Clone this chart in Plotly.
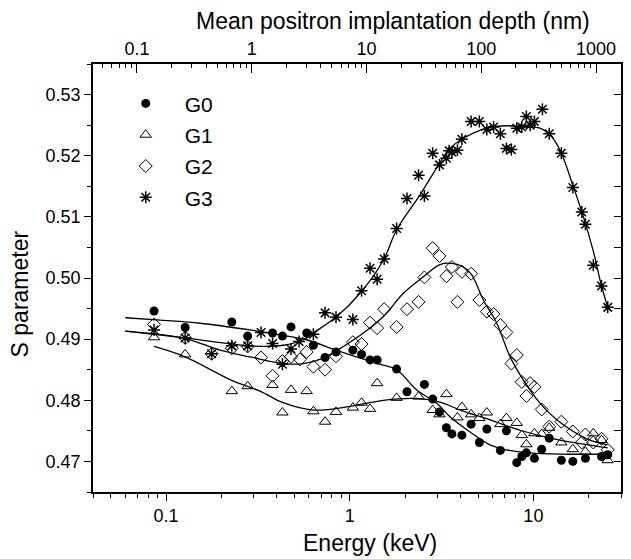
import numpy as np
import plotly.graph_objects as go

# ---------------- data ----------------
g0_e = [0.086, 0.127, 0.228, 0.278, 0.38, 0.43, 0.479, 0.583, 0.634, 0.734, 0.842, 1.04, 1.16, 1.29, 1.41,
        1.8, 2.05, 2.55, 2.83, 3.08, 3.36, 3.6, 4.08, 4.58, 5.08, 5.58, 6.61, 7.13, 8.12, 8.65, 9.16,
        10.13, 11.1, 12.2, 14.2, 16.4, 19.2, 23.5, 25.4]
g0_s = [0.4946, 0.4919, 0.4928, 0.4905, 0.4910, 0.4905, 0.4920, 0.4910, 0.4890, 0.4870, 0.4879, 0.4882,
        0.4875, 0.4866, 0.4866, 0.4851, 0.4814, 0.4826, 0.4802, 0.4781, 0.4755, 0.4745, 0.4743, 0.4761,
        0.4731, 0.4753, 0.4718, 0.4750, 0.4698, 0.4708, 0.4714, 0.4705, 0.4720, 0.4738, 0.4702, 0.4700,
        0.4705, 0.4708, 0.4711]

g1_e = [0.086, 0.127, 0.228, 0.278, 0.38, 0.43, 0.479, 0.583, 0.634, 0.734, 0.842, 1.04, 1.16, 1.29, 1.41,
        1.8, 2.37, 2.83, 3.08, 3.36, 3.86, 4.08, 4.58, 5.08, 5.58, 6.61, 7.13, 8.12, 8.65, 9.16, 10.13,
        11.1, 12.2, 14.2, 16.4, 19.2, 21.2, 23.5, 25.4]
g1_s = [0.4903, 0.4875, 0.4815, 0.4823, 0.4825, 0.4780, 0.4817, 0.4815, 0.4782, 0.4765, 0.4781, 0.4788,
        0.4796, 0.4786, 0.4828, 0.4804, 0.4806, 0.4784, 0.4777, 0.4810, 0.4772, 0.4789, 0.4777, 0.4771,
        0.4780, 0.4761, 0.4771, 0.4763, 0.4743, 0.4728, 0.4746, 0.4745, 0.4755, 0.4731, 0.4720, 0.4716,
        0.4746, 0.4735, 0.4702]

g2_e = [0.086, 0.127, 0.177, 0.228, 0.278, 0.329, 0.38, 0.43, 0.479, 0.536, 0.583, 0.634, 0.734, 0.842,
        1.04, 1.16, 1.29, 1.41, 1.54, 1.8, 2.05, 2.37, 2.55, 2.83, 3.08, 3.36, 3.6, 3.86, 4.08, 4.58,
        5.08, 5.58, 6.07, 6.61, 7.13, 7.59, 8.12, 8.65, 9.16, 9.6, 10.13, 11.1, 12.2, 14.2, 16.4, 18.35,
        19.2, 21.2, 23.5, 25.4]
g2_s = [0.4924, 0.4902, 0.4876, 0.4885, 0.4888, 0.4870, 0.4840, 0.4864, 0.4871, 0.4867, 0.4879, 0.4855,
        0.4850, 0.4872, 0.4895, 0.4892, 0.4927, 0.4918, 0.4949, 0.4920, 0.4949, 0.4961, 0.5001, 0.5049,
        0.5036, 0.5003, 0.5018, 0.4961, 0.5010, 0.5007, 0.4964, 0.4945, 0.4941, 0.4923, 0.4911, 0.4860,
        0.4874, 0.4830, 0.4807, 0.4828, 0.4822, 0.4785, 0.4757, 0.4765, 0.4749, 0.4731, 0.4744, 0.4731,
        0.4737, 0.4719]

g3_e = [0.086, 0.127, 0.177, 0.228, 0.278, 0.329, 0.38, 0.43, 0.479, 0.53, 0.634, 0.734, 0.842, 1.04,
        1.16, 1.29, 1.41, 1.54, 1.8, 2.05, 2.37, 2.55, 2.83, 3.08, 3.36, 3.48, 3.6, 3.86, 4.08, 4.58,
        5.08, 5.58, 6.07, 6.61, 7.13, 7.59, 8.12, 8.65, 9.16, 9.6, 10.13, 11.2, 12.2, 14.2, 16.4, 18.35,
        19.2, 21.2, 23.5, 25.4]
g3_s = [0.4915, 0.4902, 0.4876, 0.4889, 0.4889, 0.4911, 0.4893, 0.4859, 0.4884, 0.4896, 0.4908, 0.4943,
        0.4936, 0.4932, 0.4979, 0.5016, 0.4998, 0.5031, 0.5081, 0.5130, 0.5168, 0.5134, 0.5204, 0.5185,
        0.5196, 0.5208, 0.5206, 0.5209, 0.5227, 0.5256, 0.5256, 0.5243, 0.5247, 0.5236, 0.5212, 0.5210,
        0.5245, 0.5247, 0.5264, 0.5250, 0.5256, 0.5276, 0.5236, 0.5204, 0.5148, 0.5108, 0.5088, 0.5021,
        0.4987, 0.4952]

# fitted curves
fit0_e = [0.06, 0.093, 0.153, 0.2865, 0.417, 0.58, 0.842, 1.138, 1.463, 1.8, 2.318, 2.979, 3.519, 4.523,
          5.811, 7.1, 9.6, 13.98, 25.4]
fit0_s = [0.4935, 0.4931, 0.4926, 0.4915, 0.4907, 0.4899, 0.4882, 0.4869, 0.4859, 0.4850, 0.4817, 0.4795,
          0.4773, 0.4748, 0.4727, 0.4719, 0.4714, 0.4712, 0.4712]

fit1_e = [0.086, 0.127, 0.2258, 0.3248, 0.4335, 0.633, 1.004, 1.525, 2.32, 3.105, 3.99, 5.81, 8.47, 12.34,
          17.97, 25.4]
fit1_s = [0.4888, 0.4871, 0.4833, 0.4815, 0.4796, 0.4784, 0.4790, 0.4800, 0.4803, 0.4797, 0.4784, 0.4768,
          0.4751, 0.4738, 0.4729, 0.4722]

fit2_e = [0.06, 0.127, 0.1967, 0.2865, 0.435, 0.559, 0.718, 0.923, 1.186, 1.525, 1.96, 2.518, 3.1, 3.6,
          4.1, 4.6, 5.34, 6.32, 7.47, 8.83, 10.88, 13.42, 16.52, 20.37, 25.4]
fit2_s = [0.4913, 0.4901, 0.4882, 0.4871, 0.4860, 0.4860, 0.4869, 0.4888, 0.4910, 0.4937, 0.4975, 0.5002,
          0.5022, 0.5024, 0.5019, 0.5006, 0.4964, 0.4926, 0.4871, 0.4833, 0.4795, 0.4768, 0.4749, 0.4735,
          0.4727]

fit3_e = [0.06, 0.127, 0.2865, 0.435, 0.559, 0.633, 0.85, 1.138, 1.525, 1.8, 2.415, 3.52, 4.08, 5.58, 7.13,
          9.26, 10.88, 12.34, 13.98, 16.52, 18.73, 21.23, 23.5, 25.4]
fit3_s = [0.4913, 0.4902, 0.4889, 0.4890, 0.4899, 0.4910, 0.4937, 0.4975, 0.5029, 0.5079, 0.5136, 0.5212,
          0.5227, 0.5245, 0.5249, 0.5247, 0.5245, 0.5234, 0.5209, 0.5149, 0.5100, 0.5043, 0.4987, 0.4952]

energy_range = [0.04, 30]
s_range = [0.465, 0.535]
energy_ticks = [0.1, 1, 10]
s_ticks = [0.47, 0.48, 0.49, 0.50, 0.51, 0.52, 0.53]
depth_ticks = [0.1, 1, 10, 100, 1000]
RHO = 5.6          # g/cm^3, for mean implantation depth z = 40/rho * E^1.6 (nm)

x_title = "Energy (keV)"
x2_title = "Mean positron implantation depth (nm)"
y_title = "S parameter"

series = [("G0", g0_e, g0_s), ("G1", g1_e, g1_s), ("G2", g2_e, g2_s), ("G3", g3_e, g3_s)]
fits = [(fit0_e, fit0_s), (fit1_e, fit1_s), (fit2_e, fit2_s), (fit3_e, fit3_s)]

# ---------------- figure ----------------
FONT = "Arial, 'Liberation Sans', Helvetica, sans-serif"
fig = go.Figure()

for fe, fs in fits:
    fig.add_trace(go.Scatter(x=fe, y=fs, mode="lines",
                             line=dict(color="black", width=1.3, shape="spline", smoothing=1.0),
                             showlegend=False, hoverinfo="skip"))

styles = {
    "G0": dict(symbol="circle", size=9, color="black", line=dict(width=0)),
    "G1": dict(symbol="triangle-up-open", size=10, color="black", line=dict(width=1)),
    "G2": dict(symbol="diamond-open", size=10, color="black", line=dict(width=1)),
    "G3": dict(symbol="asterisk-open", size=10, color="black", line=dict(width=1.5, color="black")),
}
for name, e, s in series:
    fig.add_trace(go.Scatter(x=e, y=s, mode="markers", name=name, marker=styles[name], legendgroup=name))

def depth(E):
    return 40.0 / RHO * E ** 1.6

top_range = [np.log10(depth(energy_range[0])), np.log10(depth(energy_range[1]))]

# invisible trace to anchor the top axis
fig.add_trace(go.Scatter(x=[depth(1.0)], y=[None], xaxis="x2", yaxis="y2", mode="markers",
                         marker=dict(opacity=0), showlegend=False, hoverinfo="skip"))

axis_common = dict(showline=True, linecolor="black", linewidth=1.5, showgrid=False, zeroline=False,
                   tickcolor="black", tickwidth=1.2, tickfont=dict(family=FONT, size=18, color="black"))
TITLE_FONT = dict(family=FONT, size=23, color="black")

fig.update_layout(
    width=631, height=559,
    margin=dict(l=93, r=10, t=64, b=67),
    paper_bgcolor="white", plot_bgcolor="white",
    font=dict(family=FONT, color="black"),
    xaxis=dict(type="log", range=[np.log10(energy_range[0]), np.log10(energy_range[1])],
               tickvals=energy_ticks, ticktext=["0.1", "1", "10"], ticks="outside", ticklen=7,
               minor=dict(ticks="outside", ticklen=4, dtick="D1", tickcolor="black", tickwidth=1.2, showgrid=False),
               **axis_common),
    xaxis2=dict(type="log", range=top_range, overlaying="x", side="top", anchor="y",
                tickvals=depth_ticks, ticktext=["0.1", "1", "10", "100", "1000"], ticks="inside", ticklen=9,
                minor=dict(ticks="inside", ticklen=4, dtick="D1", tickcolor="black", tickwidth=1.2, showgrid=False),
                **axis_common),
    yaxis=dict(range=s_range, tickvals=s_ticks, tickformat=".2f", ticks="outside", ticklen=7,
               minor=dict(ticks="outside", ticklen=4, dtick=0.005, tickcolor="black", tickwidth=1.2, showgrid=False),
               **axis_common),
    yaxis2=dict(range=s_range, overlaying="y", side="right", anchor="x", dtick=0.005, tick0=0.47,
                ticks="inside", ticklen=7, showticklabels=False, **axis_common),
    legend=dict(x=0.026, y=0.955, xanchor="left", yanchor="top", bgcolor="rgba(0,0,0,0)",
                font=dict(family=FONT, size=21, color="black"), itemwidth=68, tracegroupgap=1),
    annotations=[
        dict(text=x_title, xref="paper", yref="paper", x=0.525, y=-0.119, xanchor="center", yanchor="middle",
             showarrow=False, font=TITLE_FONT),
        dict(text=x2_title, xref="paper", yref="paper", x=0.568, y=1.10, xanchor="center", yanchor="middle",
             showarrow=False, font=TITLE_FONT),
        dict(text=y_title, xref="paper", yref="paper", x=-0.138, y=0.462, xanchor="center", yanchor="middle",
             textangle=-90, showarrow=False, font=TITLE_FONT),
    ],
)

fig.write_html("out.html")
